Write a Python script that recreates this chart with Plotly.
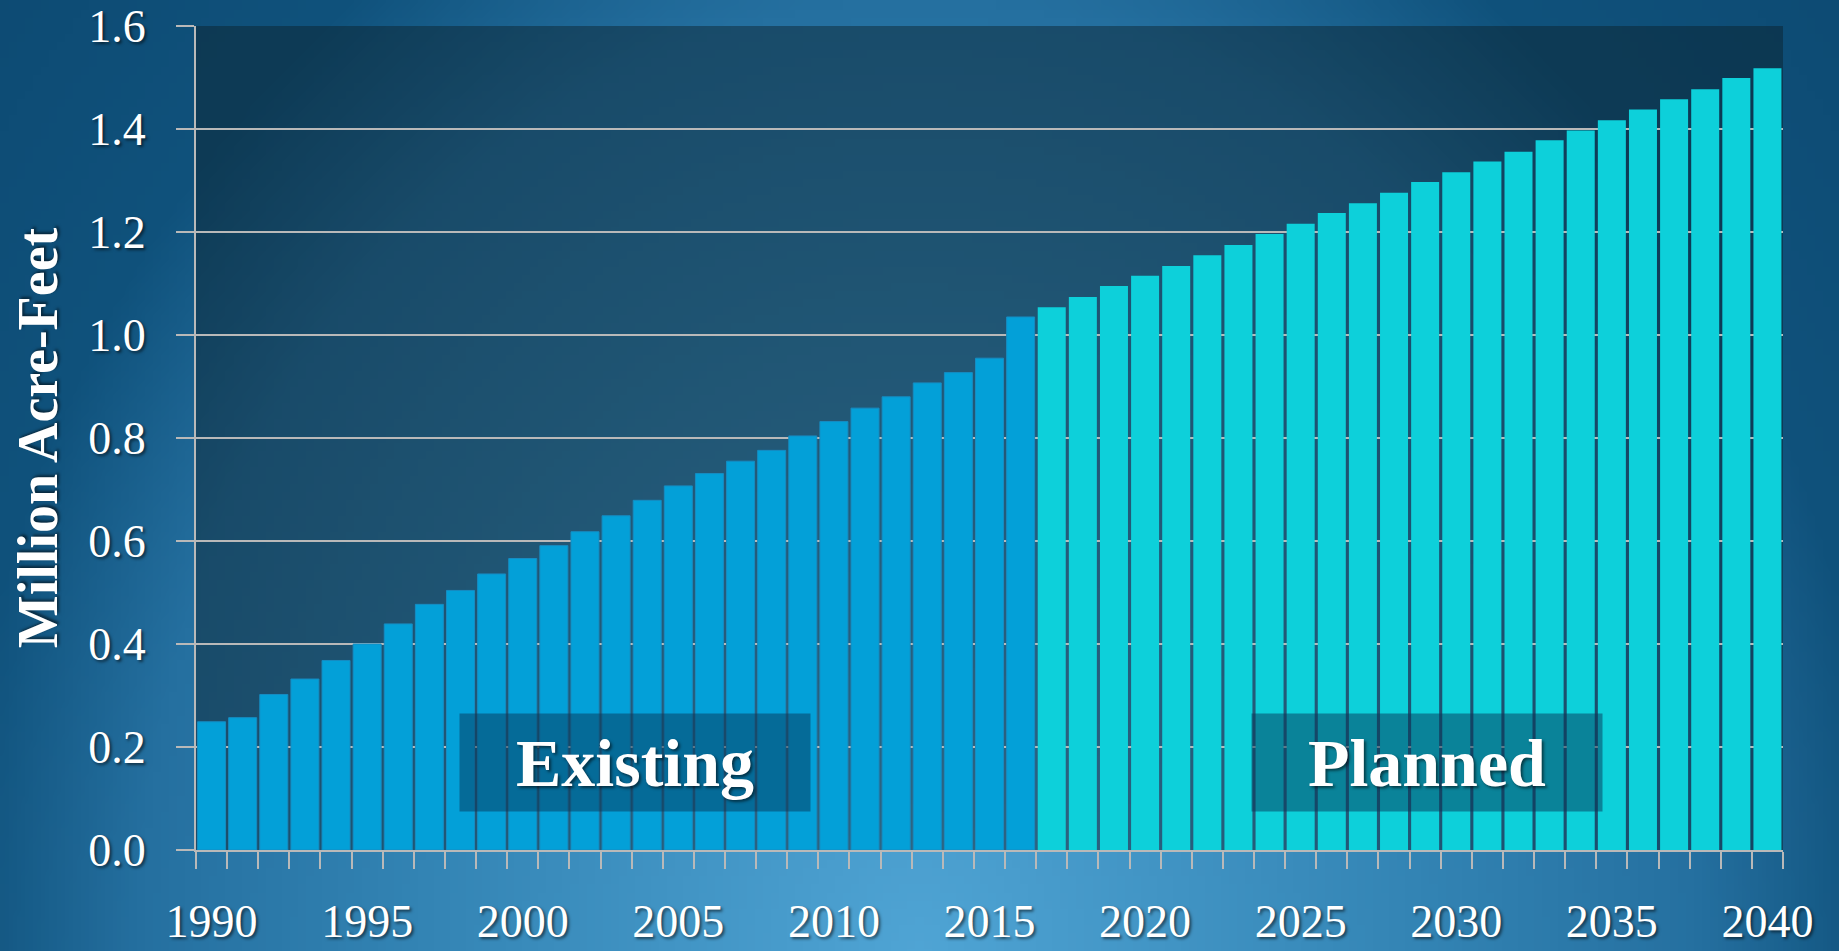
import base64
import struct
import zlib

import numpy as np
import plotly.graph_objects as go

# ---------------- data ----------------
existing_years = list(range(1990, 2017))
existing_values = [0.249, 0.257, 0.302, 0.332, 0.368, 0.400, 0.439, 0.477, 0.504,
                   0.536, 0.566, 0.591, 0.618, 0.649, 0.679, 0.707, 0.731, 0.755,
                   0.776, 0.804, 0.832, 0.858, 0.880, 0.907, 0.927, 0.955, 1.035]
planned_years = list(range(2017, 2041))
planned_values = [1.054, 1.074, 1.095, 1.115, 1.134, 1.155, 1.175, 1.196, 1.216,
                  1.237, 1.256, 1.276, 1.297, 1.316, 1.337, 1.356, 1.378, 1.397,
                  1.417, 1.438, 1.458, 1.477, 1.499, 1.518]
x_tick_years = list(range(1990, 2041, 5))
y_title = "Million Acre-Feet"
label_existing = "Existing"
label_planned = "Planned"

# ---------------- layout constants ----------------
W, H = 1839, 951
ML, MR, MT, MB = 196, 56, 26, 101
PW, PH = W - ML - MR, H - MT - MB


def gradient_png(w, h):
    xs = (np.arange(w) + 0.5) / w
    ys = (np.arange(h) + 0.5) / h
    X, Y = np.meshgrid(xs, ys)
    d = np.sqrt(((X - 0.5) / 0.55) ** 2 + ((Y - 1.0) / 1.3) ** 2)
    stops = [0.0, 0.5, 0.77, 0.95, 1.3]
    cols = np.array([[80, 165, 213], [51, 132, 180], [37, 112, 160],
                     [16, 82, 124], [12, 72, 112]], dtype=float)
    img = np.zeros((h, w, 3), dtype=np.uint8)
    for c in range(3):
        img[:, :, c] = np.clip(np.interp(d, stops, cols[:, c]), 0, 255).astype(np.uint8)
    raw = b"".join(b"\x00" + img[r].tobytes() for r in range(h))

    def chunk(t, data):
        return (struct.pack(">I", len(data)) + t + data +
                struct.pack(">I", zlib.crc32(t + data) & 0xFFFFFFFF))

    png = (b"\x89PNG\r\n\x1a\n" +
           chunk(b"IHDR", struct.pack(">IIBBBBB", w, h, 8, 2, 0, 0, 0)) +
           chunk(b"IDAT", zlib.compress(raw, 9)) + chunk(b"IEND", b""))
    return "data:image/png;base64," + base64.b64encode(png).decode()


SERIF = "Liberation Serif, DejaVu Serif, serif"
GRID = "#b9b9b9"
SHADOW = "2px 2px 3px rgba(0,0,0,0.55)"

fig = go.Figure()
fig.add_trace(go.Bar(x=existing_years, y=existing_values, name=label_existing,
                     marker=dict(color="#03a0d8", line=dict(color="#168cc2", width=1)),
                     showlegend=False))
fig.add_trace(go.Bar(x=planned_years, y=planned_values, name=label_planned,
                     marker=dict(color="#0dd0da", line=dict(width=0)),
                     showlegend=False))

box_style = dict(bgcolor="rgba(8,54,88,0.5)", width=350, height=97,
                 font=dict(family=SERIF, size=68, color="white", weight="bold",
                           shadow=SHADOW),
                 showarrow=False, xref="x", yref="y", borderpad=0)
fig.add_annotation(text=label_existing, x=2003.6, y=0.17, **box_style)
fig.add_annotation(text=label_planned, x=2029.05, y=0.17, **box_style)

fig.update_layout(
    width=W, height=H,
    margin=dict(l=ML, r=MR, t=MT, b=MB, pad=0, autoexpand=False),
    paper_bgcolor="#1a5f8c",
    plot_bgcolor="rgba(0,0,0,0)",
    bargap=0.1,
    barmode="overlay",
    images=[dict(source=gradient_png(230, 119), xref="paper", yref="paper",
                 x=-ML / PW - 0.002, y=1 + MT / PH + 0.002,
                 sizex=W / PW + 0.004, sizey=H / PH + 0.004,
                 sizing="stretch", xanchor="left", yanchor="top", layer="below")],
    shapes=[dict(type="rect", xref="paper", yref="paper", x0=0, x1=1, y0=0, y1=1,
                 fillcolor="rgba(10,30,40,0.45)", line=dict(width=0), layer="below")],
    font=dict(family=SERIF, color="white"),
)

fig.update_xaxes(
    automargin=False,
    range=[1989.5, 2040.5],
    tickmode="array", tickvals=x_tick_years, ticktext=[str(v) for v in x_tick_years],
    ticks="", showgrid=False, zeroline=False,
    showline=True, linecolor=GRID, linewidth=2,
    tickfont=dict(family=SERIF, size=46, color="white", shadow=SHADOW),
    ticklabelstandoff=30,
    minor=dict(tick0=1989.5, dtick=1, ticks="outside", ticklen=17,
               tickcolor=GRID, tickwidth=2, showgrid=False),
)
fig.update_yaxes(
    automargin=False,
    range=[0, 1.6], dtick=0.2, tickformat=".1f",
    ticks="outside", ticklen=18, tickcolor=GRID, tickwidth=2,
    showgrid=True, gridcolor=GRID, gridwidth=2, zeroline=False,
    showline=True, linecolor=GRID, linewidth=2,
    tickfont=dict(family=SERIF, size=46, color="white", shadow=SHADOW),
    ticklabelstandoff=21,
    title=dict(text=y_title, standoff=13,
               font=dict(family=SERIF, size=56, color="white", weight="bold",
                         shadow=SHADOW)),
)

fig.write_html("out.html", config={"displayModeBar": False},
               post_script="document.body.style.margin='0';")
